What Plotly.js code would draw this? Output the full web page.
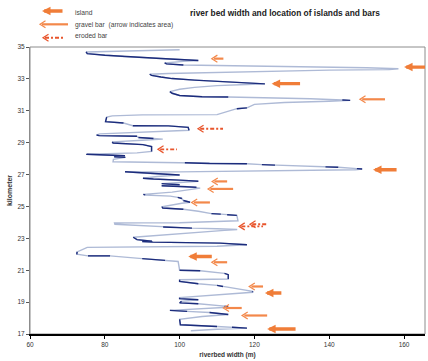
<!DOCTYPE html>
<html><head><meta charset="utf-8">
<script src="https://cdn.plot.ly/plotly-3.0.1.min.js"></script>
<style>html,body{margin:0;padding:0;background:#fff}#chart{width:428px;height:361px}</style>
</head><body><div id="chart"></div>
<script>
// riverbed width (m) along the river (kilometer), traced top to bottom
const widthM = [
100.0,88.0,75.0,75.3,80.0,85.0,90.0,95.0,100.0,105.0,
101.0,96.0,96.5,101.0,110.0,125.0,140.0,150.0,158.5,156.0,
140.0,120.0,105.0,97.0,92.0,92.5,95.0,98.0,104.0,111.0,
114.0,118.0,122.8,118.0,110.0,104.0,100.0,97.4,98.0,100.0,
106.0,113.0,125.0,135.0,143.5,145.6,140.0,128.0,120.0,118.0,
115.3,110.0,90.0,82.0,80.5,80.2,85.0,87.5,97.0,102.3,
102.5,92.0,78.7,77.8,78.5,88.6,89.0,93.0,95.5,90.0,
82.0,82.2,90.2,92.5,92.5,88.6,76.0,75.2,75.2,85.4,
82.5,85.5,82.3,82.2,95.0,101.4,108.0,118.0,122.0,125.5,
139.0,142.4,147.4,148.8,147.0,125.0,100.0,89.4,85.4,93.4,
100.0,94.0,90.2,93.0,100.0,105.0,100.0,95.2,100.0,95.2,
101.4,104.5,105.5,98.0,90.3,90.8,97.5,99.5,100.6,101.0,
102.8,100.6,95.3,95.5,101.0,105.0,108.5,111.0,112.7,115.3,
115.6,100.0,90.0,82.6,82.7,92.0,95.6,103.3,110.0,115.4,
112.0,100.0,87.6,88.6,92.6,90.0,92.9,110.8,118.0,110.0,
100.0,87.0,75.3,72.6,72.5,75.5,81.4,90.0,96.1,99.6,
100.0,105.5,112.0,113.0,113.0,100.0,100.0,105.0,110.0,111.6,
119.5,119.5,105.0,100.0,100.0,105.0,100.5,100.0,105.0,112.0,
113.0,105.0,97.4,102.0,108.0,113.0,106.0,100.0,100.0,100.2,
110.0,114.0,118.0,110.0,103.0
];
const kmPos = [
34.83,34.76,34.69,34.58,34.48,34.40,34.34,34.28,34.22,34.15,
34.10,34.00,33.94,33.87,33.84,33.80,33.74,33.70,33.64,33.58,
33.55,33.47,33.40,33.34,33.29,33.22,33.12,33.02,32.92,32.85,
32.80,32.77,32.69,32.65,32.58,32.47,32.35,32.20,32.10,31.96,
31.88,31.86,31.81,31.75,31.68,31.65,31.60,31.52,31.40,31.18,
31.13,30.76,30.74,30.68,30.60,30.32,30.23,30.06,30.05,29.96,
29.78,29.66,29.55,29.48,29.44,29.40,29.32,29.26,29.22,29.15,
29.05,28.98,28.88,28.76,28.45,28.36,28.31,28.30,28.27,28.18,
28.12,28.08,27.95,27.80,27.76,27.74,27.69,27.68,27.62,27.59,
27.48,27.46,27.37,27.35,27.30,27.22,27.17,27.16,27.18,27.05,
26.97,26.88,26.77,26.72,26.65,26.58,26.50,26.43,26.36,26.30,
26.25,26.20,26.15,25.90,25.76,25.72,25.65,25.57,25.50,25.37,
25.26,25.20,24.98,24.90,24.82,24.70,24.55,24.52,24.48,24.44,
24.10,23.98,23.97,23.96,23.88,23.76,23.71,23.64,23.60,23.55,
23.50,23.30,23.07,22.92,22.82,22.80,22.76,22.70,22.60,22.50,
22.47,22.46,22.43,22.15,22.00,21.90,21.90,21.73,21.62,21.55,
21.00,20.97,20.80,20.72,20.45,20.40,20.30,20.15,20.05,19.98,
19.68,19.62,19.40,19.28,19.22,19.15,19.05,18.95,18.90,18.75,
18.68,18.60,18.48,18.42,18.35,18.22,18.10,17.92,17.70,17.58,
17.47,17.42,17.37,17.30,17.20
];
// 1 = segment ending at this point belongs to the dark (second) survey series
const darkSeg = [
0,0,0,1,1,1,1,1,1,1,
0,0,1,1,0,0,0,0,0,0,
0,0,0,0,0,1,1,1,1,1,
1,1,1,0,0,0,0,0,1,1,
1,1,0,0,0,1,0,0,0,0,
1,0,0,0,0,1,1,0,1,1,
1,0,0,0,1,1,0,1,0,0,
0,1,1,1,1,0,0,0,1,1,
0,1,0,0,0,0,1,1,0,1,
0,1,0,1,0,0,0,0,0,1,
1,0,0,1,1,1,0,0,1,0,
1,1,0,0,0,1,0,0,1,0,
1,0,0,1,1,0,0,1,0,1,
0,0,0,0,0,0,0,1,0,0,
0,0,0,1,1,0,1,1,1,0,
0,0,0,0,1,0,1,0,1,0,
0,1,0,1,1,0,1,1,0,1,
0,1,0,0,1,1,0,1,1,0,
1,0,0,1,0,1,0,0,1,1,
1,0,1,0,0
];
// arrows: km position, arrow tip (width), arrow tail (width), kind
const arrowKm   = [34.27,33.74,32.70,31.72,29.87,28.58,27.30,26.57,26.10,25.25,23.88,23.75,21.86,21.50,19.98,19.57,18.63,18.16,17.31];
const arrowHead = [108.6,160.0,124.6,148.2,104.9,94.2,151.7,108.7,107.6,103.2,118.8,115.9,102.3,108.6,118.6,122.8,111.7,116.7,123.4];
const arrowTail = [111.7,166.0,132.6,154.9,111.6,99.3,158.4,112.7,114.3,108.1,123.4,122.3,109.0,112.7,122.3,127.6,116.6,123.4,131.4];
const arrowKind = ['gravel','island','island','gravel','eroded','eroded','island','gravel','gravel','gravel','eroded','eroded','island','gravel','gravel','island','gravel','gravel','island'];
const legendKinds = ['island','gravel','eroded'];
const legendLabels = ['island','gravel bar\u00a0 (arrow indicates area)','eroded bar'];
const xTicks = [60,80,100,120,140,160];
const yTicks = [17,19,21,23,25,27,29,31,33,35];

const styles = {
  island: {color:'#F07D38', width:3.4, head:2, size:0.5},
  gravel: {color:'#F3884A', width:2.2, chevron:1.2},
  eroded: {color:'#E8552C', width:1.9, chevron:1.2, dash:'4px,2px,2px,2px'}
};
// chevron half-sizes in axis units (about 5.5 px long, 3.5 px half-height)
const CHEV_DX = 1.5, CHEV_DY = 0.22;

// dark segments
const dx = [], dy = [];
let last = -2;
for (let i = 1; i < widthM.length; i++) {
  if (darkSeg[i]) {
    if (last !== i - 1) {
      if (dx.length) { dx.push(null); dy.push(null); }
      dx.push(widthM[i-1]); dy.push(kmPos[i-1]);
    }
    dx.push(widthM[i]); dy.push(kmPos[i]);
    last = i;
  }
}

const traces = [
  {x: widthM, y: kmPos, mode:'lines', line:{color:'#AEBAD6', width:1.4}, hoverinfo:'skip', showlegend:false},
  {x: dx, y: dy, mode:'lines', line:{color:'#1C2C7C', width:1.4}, hoverinfo:'skip', showlegend:false, connectgaps:false}
];

const annotations = [];
const shapes = [];
['gravel','eroded'].forEach(kind => {
  const s = styles[kind];
  const sx = [], sy = [], cx = [], cy = [];
  arrowKm.forEach((k, i) => {
    if (arrowKind[i] !== kind) return;
    sx.push(arrowHead[i] + 0.6, arrowTail[i], null); sy.push(k, k, null);
    cx.push(arrowHead[i] + CHEV_DX, arrowHead[i], arrowHead[i] + CHEV_DX, null);
    cy.push(k + CHEV_DY, k, k - CHEV_DY, null);
  });
  traces.push({x:sx, y:sy, mode:'lines', line:{color:s.color, width:s.width, dash:s.dash || 'solid'}, hoverinfo:'skip', showlegend:false});
  traces.push({x:cx, y:cy, mode:'lines', line:{color:s.color, width:s.chevron}, hoverinfo:'skip', showlegend:false});
});
arrowKm.forEach((k, i) => {
  if (arrowKind[i] !== 'island') return;
  const s = styles.island;
  annotations.push({xref:'x', yref:'y', axref:'x', ayref:'y', x: arrowHead[i], y: k, ax: arrowTail[i], ay: k,
    text:'', font:{size:1}, showarrow:true, arrowhead:s.head, arrowsize:s.size, arrowwidth:s.width, arrowcolor:s.color, standoff:0});
});

// legend (drawn in pixel positions of the figure)
const L = 30, R = 425, T = 47, B = 334.3;
const px2x = p => (p - L) / (R - L);
const py2y = p => (B - p) / (B - T);
const legHead = [42, 40, 43], legTail = [64, 68, 63], legY = [11, 24.3, 37.7], legTextY = [12, 24.5, 35.5];
legendKinds.forEach((kind, i) => {
  const s = styles[kind];
  if (kind === 'island') {
    annotations.push({xref:'paper', yref:'paper', x: px2x(legHead[i]), y: py2y(legY[i]), ax: legTail[i] - legHead[i], ay: 0,
      text:'', font:{size:1}, showarrow:true, arrowhead:s.head, arrowsize:s.size, arrowwidth:s.width, arrowcolor:s.color, standoff:0});
  } else {
    shapes.push({type:'line', xref:'paper', yref:'paper', x0: px2x(legHead[i] + 2), x1: px2x(legTail[i]), y0: py2y(legY[i]), y1: py2y(legY[i]),
      line:{color:s.color, width:s.width, dash:s.dash || 'solid'}});
    const hx = legHead[i], hy = legY[i];
    shapes.push({type:'path', xref:'paper', yref:'paper',
      path:`M${px2x(hx + 5.5)},${py2y(hy - 3.5)}L${px2x(hx)},${py2y(hy)}L${px2x(hx + 5.5)},${py2y(hy + 3.5)}`,
      line:{color:s.color, width:s.chevron}});
  }
  annotations.push({xref:'paper', yref:'paper', x: px2x(73), y: py2y(legTextY[i]), xanchor:'left', yanchor:'middle',
    text: legendLabels[i], showarrow:false, font:{family:'Liberation Sans, Arial, sans-serif', size:6.7, color:'#444'}});
});

// plot frame: grey top/right/left, black bottom axis drawn by the x axis
shapes.push({type:'rect', xref:'paper', yref:'paper', x0:0, x1:1, y0:0, y1:1, line:{color:'#8c8c8c', width:1}, layer:'below'});

const layout = {
  width:428, height:361,
  margin:{l:30, r:3, t:47, b:27},
  paper_bgcolor:'#fff', plot_bgcolor:'#fff',
  font:{family:'Liberation Sans, Arial, sans-serif', color:'#333'},
  title:{text:'<b>river bed width and location of islands and bars</b>', font:{size:8.4, color:'#222'},
    xref:'container', yref:'container', x:285/428, xanchor:'center', y:1 - 13/361, yanchor:'middle'},
  xaxis:{range:[60,165.6], tickvals:xTicks, ticktext:xTicks.map(String), showgrid:false, zeroline:false,
    showline:true, linecolor:'#000', linewidth:2, ticks:'outside', ticklen:3, tickcolor:'#000', tickwidth:1,
    tickfont:{size:6.5, color:'#333'},
    title:{text:'<b>riverbed width (m)</b>', font:{size:6.5, color:'#333'}, standoff:6}},
  yaxis:{range:[17,35], tickvals:yTicks, ticktext:yTicks.map(String), showgrid:false, zeroline:false,
    showline:true, linecolor:'#8c8c8c', linewidth:1, ticks:'outside', ticklen:3, tickcolor:'#555', tickwidth:1,
    tickfont:{size:6.5, color:'#333'},
    title:{text:'<b>kilometer</b>', font:{size:7, color:'#333'}, standoff:4}},
  annotations, shapes, showlegend:false
};

Plotly.newPlot('chart', traces, layout, {displayModeBar:false, staticPlot:true});
</script>
</body></html>
